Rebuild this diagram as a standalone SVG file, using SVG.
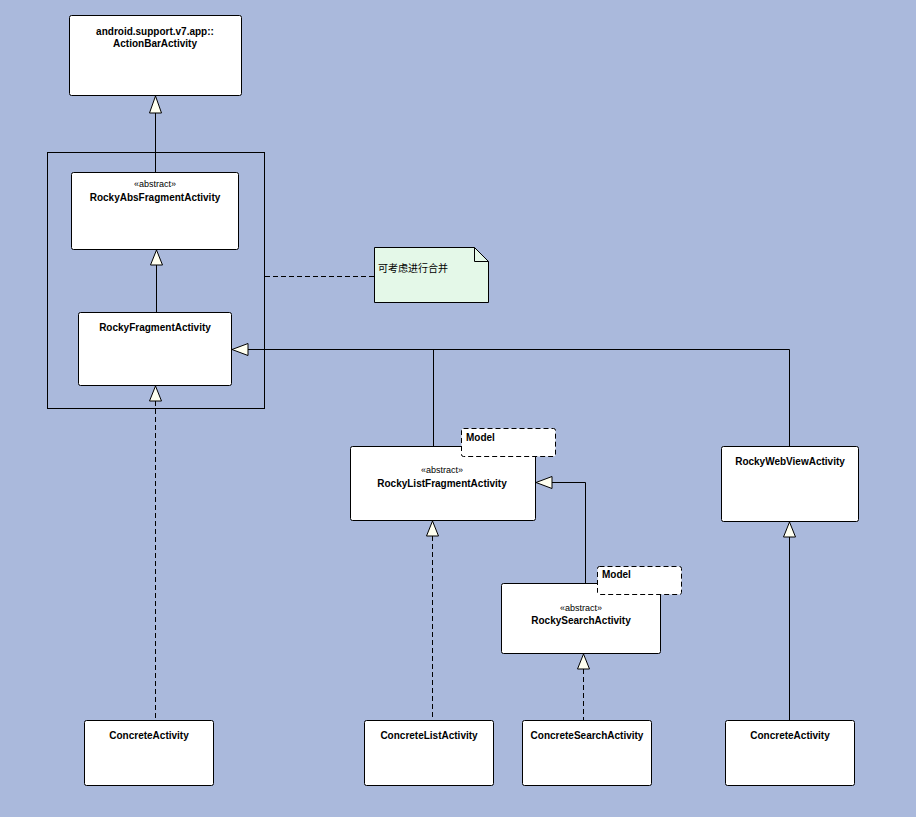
<svg xmlns="http://www.w3.org/2000/svg" width="916" height="817" viewBox="0 0 916 817">
<defs>
<style>
.box{fill:#fff;stroke:#000;stroke-width:1}
.t{font-family:"Liberation Sans",Arial,sans-serif;font-size:10px;font-weight:bold;fill:#000;text-anchor:middle}
.m{font-family:"Liberation Sans",Arial,sans-serif;font-size:10px;font-weight:bold;fill:#000;text-anchor:start}
.s{font-family:"Liberation Sans",Arial,sans-serif;font-size:9px;fill:#000;text-anchor:middle}
.ln{fill:none;stroke:#000;stroke-width:1}
.dl{fill:none;stroke:#000;stroke-width:1;stroke-dasharray:5,3}
.tri{fill:#FFFFF0;stroke:#000;stroke-width:1}
.tab{fill:#fff;stroke:#000;stroke-width:1;stroke-dasharray:5,3}
</style>
</defs>
<rect x="0" y="0" width="916" height="817" fill="#AAB9DC"/>
<rect x="47.5" y="152.5" width="217" height="256" fill="none" stroke="#000"/>
<g id="connectors">
<path class="ln" d="M155.5 113 V172"/>
<polygon class="tri" points="155.5,96 149.5,113 161.5,113"/>
<path class="ln" d="M156.5 265 V312"/>
<polygon class="tri" points="156.5,250 150.5,265 162.5,265"/>
<path class="dl" d="M155.5 401 V720"/>
<polygon class="tri" points="155.5,386 149.5,401 161.5,401"/>
<path class="ln" d="M248 349.5 H789.5 V446 M433.5 349.5 V446"/>
<polygon class="tri" points="232,349.5 248,343.5 248,355.5"/>
<path class="ln" d="M552 482.5 H585.5 V583"/>
<polygon class="tri" points="536,482.5 552,476.5 552,488.5"/>
<path class="dl" d="M432.5 536 V720"/>
<polygon class="tri" points="432.5,521 426.5,536 438.5,536"/>
<path class="dl" d="M583.5 669 V720"/>
<polygon class="tri" points="583.5,654 577.5,669 589.5,669"/>
<path class="ln" d="M789.5 537 V720"/>
<polygon class="tri" points="789.5,522 783.5,537 795.5,537"/>
<path class="dl" d="M265 276.5 H374"/>
</g>
<g id="ActionBarActivity">
<rect class="box" x="69.5" y="15.5" width="172" height="80" rx="2"/>
<text class="t" x="155" y="35">android.support.v7.app::</text>
<text class="t" x="155" y="47">ActionBarActivity</text>
</g>
<g id="RockyAbsFragmentActivity">
<rect class="box" x="71.5" y="172.5" width="167" height="77" rx="2"/>
<text class="s" x="155" y="187">«abstract»</text>
<text class="t" x="155" y="201">RockyAbsFragmentActivity</text>
</g>
<g id="RockyFragmentActivity">
<rect class="box" x="78.5" y="312.5" width="153" height="73" rx="2"/>
<text class="t" x="155" y="331">RockyFragmentActivity</text>
</g>
<g id="note">
<path d="M374.5 247.5 H474.5 L488.5 261.5 V302.5 H374.5 Z" fill="#E4F8E8" stroke="#000"/>
<path d="M474.5 247.5 V261.5 H488.5" fill="none" stroke="#000"/>
<text x="378" y="272" font-family="'Liberation Sans','Noto Sans CJK SC',sans-serif" font-size="10px" fill="#000">可考虑进行合并</text>
</g>
<g id="RockyListFragmentActivity">
<rect class="box" x="350.5" y="446.5" width="185" height="74" rx="2"/>
<rect class="tab" x="461.5" y="428.5" width="94" height="28" rx="2"/>
<text class="m" x="466" y="441">Model</text>
<text class="s" x="442" y="473">«abstract»</text>
<text class="t" x="442" y="487">RockyListFragmentActivity</text>
</g>
<g id="RockySearchActivity">
<rect class="box" x="501.5" y="583.5" width="159" height="70" rx="2"/>
<rect class="tab" x="597.5" y="566.5" width="84" height="28" rx="2"/>
<text class="m" x="602" y="578">Model</text>
<text class="s" x="581" y="611">«abstract»</text>
<text class="t" x="581" y="624">RockySearchActivity</text>
</g>
<g id="RockyWebViewActivity">
<rect class="box" x="721.5" y="446.5" width="137" height="75" rx="2"/>
<text class="t" x="790" y="465">RockyWebViewActivity</text>
</g>
<g id="ConcreteActivity1">
<rect class="box" x="84.5" y="720.5" width="129" height="65" rx="2"/>
<text class="t" x="149" y="739">ConcreteActivity</text>
</g>
<g id="ConcreteListActivity">
<rect class="box" x="364.5" y="720.5" width="129" height="65" rx="2"/>
<text class="t" x="429" y="739">ConcreteListActivity</text>
</g>
<g id="ConcreteSearchActivity">
<rect class="box" x="522.5" y="720.5" width="129" height="65" rx="2"/>
<text class="t" x="587" y="739">ConcreteSearchActivity</text>
</g>
<g id="ConcreteActivity2">
<rect class="box" x="725.5" y="720.5" width="129" height="65" rx="2"/>
<text class="t" x="790" y="739">ConcreteActivity</text>
</g>
</svg>
